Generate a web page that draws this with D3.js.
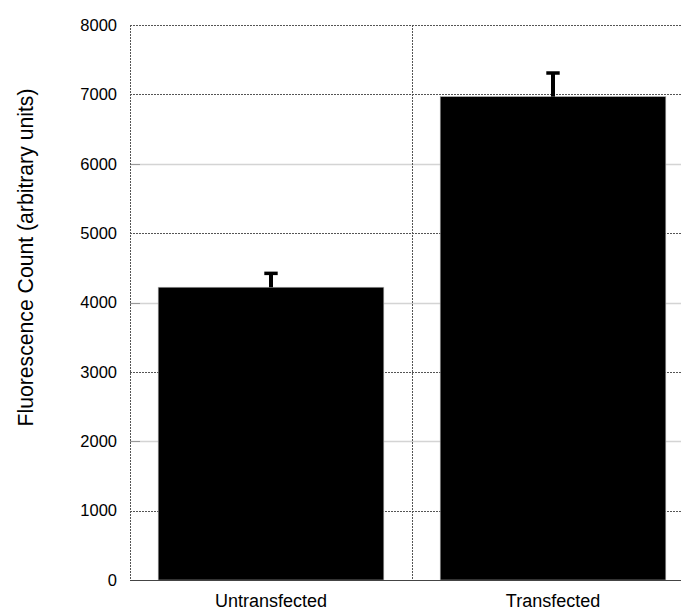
<!DOCTYPE html>
<html>
<head>
<meta charset="utf-8">
<script src="https://cdn.jsdelivr.net/npm/d3@7"></script>
<style>
  html, body { margin: 0; padding: 0; background: #fff; }
  svg { display: block; font-family: "Liberation Sans", Arial, Helvetica, sans-serif; }
</style>
</head>
<body>
<svg id="chart" width="681" height="611"></svg>
<script>
// Mean fluorescence per condition, with the upper error (SD) for each
const categories = ["Untransfected", "Transfected"];
const means = [4220, 6967];
const errors = [200, 341];
const yTicks = [0, 1000, 2000, 3000, 4000, 5000, 6000, 7000, 8000];

const svg = d3.select("#chart");
const plotLeft = 130, plotRight = 694, plotTop = 25, plotBottom = 580;

const x = d3.scaleBand().domain(categories).range([plotLeft, plotRight])
  .paddingInner(0.2).paddingOuter(0.1);
const y = d3.scaleLinear().domain([0, 8000]).range([plotBottom, plotTop]);

// Horizontal grid: odd thousands and the top frame dotted dark,
// the remaining even thousands light solid with a short tick
const grid = svg.append("g");
yTicks.filter(t => t > 0).forEach(t => {
  const dark = (t / 1000) % 2 === 1 || t === 8000;
  const gy = Math.round(y(t)) + 0.5;
  grid.append("line")
    .attr("x1", plotLeft).attr("x2", plotRight)
    .attr("y1", gy).attr("y2", gy)
    .attr("stroke", dark ? "#555" : "#d4d4d4")
    .attr("stroke-width", dark ? 1 : 1.4)
    .attr("stroke-dasharray", dark ? "2,1" : null);
  if (!dark) {
    grid.append("line")
      .attr("x1", plotLeft).attr("x2", plotLeft + 10)
      .attr("y1", gy).attr("y2", gy)
      .attr("stroke", "#999").attr("stroke-width", 1);
  }
});

// Vertical divider between the two categories
const mid = (x(categories[0]) + x.bandwidth() + x(categories[1])) / 2;
svg.append("line")
  .attr("x1", Math.round(mid) + 0.5).attr("x2", Math.round(mid) + 0.5)
  .attr("y1", plotTop).attr("y2", plotBottom)
  .attr("stroke", "#555").attr("stroke-dasharray", "2,1");

// Left frame line
svg.append("line")
  .attr("x1", plotLeft + 0.5).attr("x2", plotLeft + 0.5)
  .attr("y1", plotTop).attr("y2", plotBottom)
  .attr("stroke", "#555").attr("stroke-dasharray", "2,1");

// Bars
svg.append("g").selectAll("rect")
  .data(categories)
  .join("rect")
  .attr("x", d => x(d))
  .attr("y", (d, i) => y(means[i]))
  .attr("width", x.bandwidth())
  .attr("height", (d, i) => y(0) - y(means[i]))
  .attr("fill", "#000")
  .attr("stroke", "#aaa")
  .attr("stroke-width", 0.6);

// Upper error bars
const eb = svg.append("g");
categories.forEach((c, i) => {
  const cx = x(c) + x.bandwidth() / 2;
  const yTop = y(means[i] + errors[i]);
  eb.append("line")
    .attr("x1", cx).attr("x2", cx)
    .attr("y1", y(means[i])).attr("y2", yTop)
    .attr("stroke", "#000").attr("stroke-width", 4);
  eb.append("line")
    .attr("x1", cx - 6.7).attr("x2", cx + 6.7)
    .attr("y1", yTop).attr("y2", yTop)
    .attr("stroke", "#000").attr("stroke-width", 3.5);
});

// Baseline
svg.append("line")
  .attr("x1", plotLeft).attr("x2", plotRight)
  .attr("y1", plotBottom + 0.5).attr("y2", plotBottom + 0.5)
  .attr("stroke", "#444").attr("stroke-width", 1);

// Y tick labels
const yAxis = d3.axisLeft(y).tickValues(yTicks).tickSize(0).tickPadding(13)
  .tickFormat(d3.format("d"));
const ya = svg.append("g").attr("transform", `translate(${plotLeft},0)`).call(yAxis);
ya.select(".domain").remove();
ya.selectAll("text")
  .attr("font-family", "'Liberation Sans', Arial, Helvetica, sans-serif")
  .attr("font-size", 16.5).attr("fill", "#000");

// Category labels
const xAxis = d3.axisBottom(x).tickSize(0).tickPadding(0);
const xa = svg.append("g").attr("transform", `translate(0,${plotBottom})`).call(xAxis);
xa.select(".domain").remove();
xa.selectAll("text")
  .attr("dy", null).attr("y", 27)
  .attr("font-family", "'Liberation Sans', Arial, Helvetica, sans-serif")
  .attr("font-size", 18).attr("fill", "#000");

// Y axis title
svg.append("text")
  .attr("transform", "translate(33,257.5) rotate(-90)")
  .attr("text-anchor", "middle")
  .attr("font-size", 21.2)
  .attr("fill", "#000")
  .text("Fluorescence Count (arbitrary units)");
</script>
</body>
</html>
